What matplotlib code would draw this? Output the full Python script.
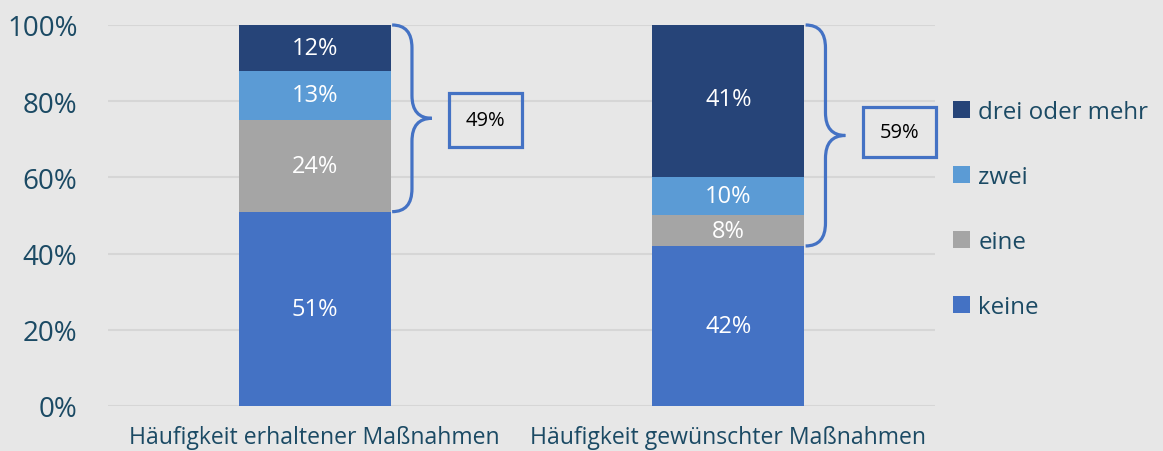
import matplotlib.pyplot as plt
from matplotlib.path import Path
from matplotlib.patches import PathPatch, Rectangle, Patch

plt.rcParams['font.family'] = ['Open Sans', 'DejaVu Sans']

categories = ['Häufigkeit erhaltener Maßnahmen', 'Häufigkeit gewünschter Maßnahmen']
series = ['keine', 'eine', 'zwei', 'drei oder mehr']
values = {
    'keine': [51, 42],
    'eine': [24, 8],
    'zwei': [13, 10],
    'drei oder mehr': [12, 41],
}
colors = {
    'keine': '#4472C4',
    'eine': '#A5A5A5',
    'zwei': '#5B9BD5',
    'drei oder mehr': '#264478',
}
brace_ranges = [(51, 100), (42, 100)]
brace_labels = ['49%', '59%']

bg = '#E7E7E7'
txt = '#1B4A64'
accent = '#4472C4'

fig = plt.figure(figsize=(11.63, 4.52), dpi=100, facecolor=bg)
ax = fig.add_axes([0.0929, 0.0996, 0.7111, 0.8429], facecolor=bg)

x = list(range(len(categories)))
w = 0.368
bottom = [0, 0]
for s in series:
    v = values[s]
    ax.bar(x, v, w, bottom=bottom, color=colors[s], zorder=2)
    for i in range(len(x)):
        ax.text(x[i], bottom[i] + v[i] / 2, f'{v[i]}%', ha='center', va='center',
                color='white', fontsize=17, zorder=3)
    bottom = [bottom[i] + v[i] for i in range(len(x))]


def brace(ax, x0, x1, lo, hi, r=6):
    xm = (x0 + x1) / 2
    mid = (lo + hi) / 2
    verts = [(x0, hi), (xm, hi), (xm, hi - r),
             (xm, mid + r),
             (xm, mid), (x1, mid),
             (xm, mid), (xm, mid - r),
             (xm, lo + r),
             (xm, lo), (x0, lo)]
    codes = [Path.MOVETO, Path.CURVE3, Path.CURVE3,
             Path.LINETO,
             Path.CURVE3, Path.CURVE3,
             Path.CURVE3, Path.CURVE3,
             Path.LINETO,
             Path.CURVE3, Path.CURVE3]
    ax.add_patch(PathPatch(Path(verts, codes), fill=False, edgecolor=accent,
                           lw=2.3, zorder=4, clip_on=False))


# box centre / height in axis units
box_y = [75.1, 71.9]
box_h = [14.2, 13.1]
for i, (lo, hi) in enumerate(brace_ranges):
    brace(ax, x[i] + 0.187, x[i] + 0.283, lo, hi)
    bx0, bx1 = x[i] + 0.325, x[i] + 0.502
    ax.add_patch(Rectangle((bx0, box_y[i] - box_h[i] / 2), bx1 - bx0, box_h[i], fill=False,
                           edgecolor=accent, lw=2.3, zorder=4, clip_on=False))
    ax.text((bx0 + bx1) / 2, box_y[i], brace_labels[i], ha='center', va='center',
            color='black', fontsize=14.5, zorder=5)

ax.set_xlim(-0.5, 1.5)
ax.set_ylim(0, 100)
ax.set_yticks(range(0, 101, 20))
ax.set_yticklabels([f'{t}%' for t in range(0, 101, 20)])
ax.set_xticks(x)
ax.set_xticklabels(categories)
ax.tick_params(axis='y', length=0, labelsize=20, labelcolor=txt, pad=22)
ax.tick_params(axis='x', length=0, labelsize=16.6, labelcolor=txt, pad=14)
ax.grid(axis='y', color='#D6D6D6', lw=1.5, zorder=0)
for sp in ax.spines.values():
    sp.set_visible(False)

handles = [Patch(facecolor=colors[s]) for s in series[::-1]]
fig.legend(handles, series[::-1], loc='upper left', bbox_to_anchor=(0.811, 0.798),
           frameon=False, fontsize=17.4, labelcolor=txt, handlelength=0.7,
           handleheight=0.7, handletextpad=0.35, labelspacing=1.7, borderaxespad=0)

fig.savefig('out.png', dpi=100, facecolor=bg)
